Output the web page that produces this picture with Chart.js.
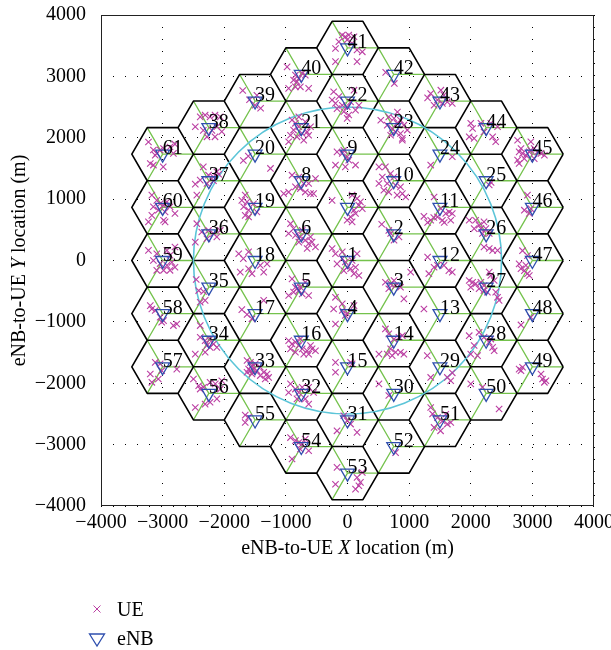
<!DOCTYPE html>
<html>
<head>
<meta charset="utf-8">
<style>
  html, body { margin: 0; padding: 0; background: #fff; }
  #c { display: block; }
</style>
<script src="https://cdn.jsdelivr.net/npm/chart.js@4/dist/chart.umd.min.js"></script>
</head>
<body>
<canvas id="c" width="611" height="650"></canvas>
<script>
// ---------------- data ----------------
const xTickLabels = ['\u22124000', '\u22123000', '\u22122000', '\u22121000', '0', '1000', '2000', '3000', '4000'];
const yTickLabels = ['\u22124000', '\u22123000', '\u22122000', '\u22121000', '0', '1000', '2000', '3000', '4000'];
const xTitleParts = [['eNB-to-UE ', false], ['X', true], [' location (m)', false]];
const yTitleParts = [['eNB-to-UE ', false], ['Y', true], [' location (m)', false]];
const legendLabels = ['UE', 'eNB'];

const cellIds = [];
for (let i = 1; i <= 61; i++) cellIds.push(String(i));

const enbX = [0,750,750,0,-750,-750,0,-750,0,750,
  1500,1500,1500,750,0,-750,-1500,-1500,-1500,-1500,
  -750,0,750,1500,2250,2250,2250,2250,1500,750,
  0,-750,-1500,-2250,-2250,-2250,-2250,-2250,-1500,-750,
  0,750,1500,2250,3000,3000,3000,3000,3000,2250,
  1500,750,0,-750,-1500,-2250,-3000,-3000,-3000,-3000,-3000];
const enbY = [0,433,-433,-866,-433,433,866,1299,1732,1299,
  866,0,-866,-1299,-1732,-1299,-866,0,866,1732,
  2165,2598,2165,1732,1299,433,-433,-1299,-1732,-2165,
  -2598,-2165,-1732,-1299,-433,433,1299,2165,2598,3031,
  3464,3031,2598,2165,1732,866,0,-866,-1732,-2165,
  -2598,-3031,-3464,-3031,-2598,-2165,-1732,-866,0,866,1732];

const cellRadius = 500;     // hexagon circumradius (m)
const circleRadius = 2500;  // cyan reference circle (m)

const ueXY = [
 [-1700,2770],[-1590,2620],[-1470,2690],[-1500,2530],[-1410,2480],
 [-2390,2340],[-2310,2370],[-2230,2340],[-2150,2370],[-2065,2340],[-2470,2180],[-2340,2120],[-2200,2120],[-2120,2180],[-2280,2015],[-2150,2015],[-2040,2100],
 [-3230,1930],[-3150,1800],[-3095,1745],[-3040,1800],[-2985,1825],[-2880,1850],[-2800,1895],[-3200,1580],[-3150,1555],[-2990,1525],[-2825,1745],[-3120,1715],
 [-1690,1630],[-1250,1500],[-1610,1700],
 [-2340,1525],[-2255,1390],[-2175,1360],[-2090,1405],[-2390,1310],[-2470,1245],[-2280,1255],[-2175,1300],[-2445,1065],[-2120,1445],
 [-3175,1065],[-3095,980],[-3040,925],[-2985,900],[-3150,875],[-3070,820],[-3175,735],[-2960,790],[-2880,875],[-2800,765],[-2985,655],[-2960,630],[-3230,630],[-2930,955],
 [-1660,1065],[-1630,955],[-1685,875],[-1605,820],[-1660,735],[-1605,710],[-1525,925],[-1470,790],[-1715,980],
 [-2445,600],[-2365,465],[-2255,490],[-2175,440],[-2120,385],[-2065,490],[-2280,355],[-2470,300],
 [-3230,165],[-3095,110],[-2930,165],[-2880,85],[-2800,220],[-3150,0],[-3040,-50],[-2930,-80],[-2850,-30],[-2985,-160],[-2880,-160],[-3095,-160],[-2800,-110],
 [-1765,110],[-1605,140],[-1690,30],[-1605,-135],[-1550,-215],[-1415,-80],[-1360,-190],[-1305,-55],[-1740,-190],
 [-2455,-310],[-2415,-490],[-2335,-505],[-2390,-680],[-2310,-650],
 [-3200,-735],[-3120,-815],[-3040,-925],[-2985,-980],[-3015,-1005],[-2825,-1060],[-2770,-1035],[-3175,-790],
 [-1715,-800],[-1360,-650],[-1550,-950],[-1630,-880],
 [-2390,-1060],[-2390,-1250],[-2310,-1305],[-2230,-1280],[-2175,-1360],[-2230,-1415],[-2310,-1495],[-2470,-1525],[-2280,-1385],[-2120,-1415],
 [-3120,-1660],[-3040,-1685],[-3200,-1850],[-3070,-1930],[-3175,-1985],[-3015,-1795],[-2770,-1770],
 [-1630,-1630],[-1575,-1660],[-1550,-1715],[-1605,-1770],[-1525,-1770],[-1470,-1795],[-1415,-1740],[-1360,-1820],[-1305,-1850],[-1280,-1905],[-1335,-1930],[-1630,-1820],[-1550,-1850],[-1495,-1685],[-1415,-1875],[-1575,-1795],
 [-2500,-1930],[-2415,-2040],[-2335,-2065],[-2230,-1985],[-2145,-2010],[-2065,-2095],[-2040,-1960],[-2120,-2255],[-2230,-2310],[-2310,-2340],[-2470,-2395],[-2390,-2095],
 [-1660,-2520],[-1660,-2640],[-1605,-2555],
 [-85,3675],[-35,3645],[20,3675],[105,3645],[-140,3565],[-195,3455],[75,3540],[240,3400],[155,3430],[-195,3240],[155,3240],[-5,3595],
 [-980,3155],[-845,3020],[-790,2965],[-735,3050],[-820,2915],[-845,2830],[-765,2830],[-955,2805],[-630,2805],[-685,3020],[-875,2940],
 [620,3065],[760,2885],
 [-225,2750],[-140,2670],[-195,2560],[-85,2530],[-5,2505],[50,2585],[20,2370],[-5,2315],[130,2450],[-170,2475],[-60,2425],[105,2775],[185,2530],[-250,2615],
 [-900,2290],[-845,2235],[-790,2180],[-875,2125],[-735,2070],[-655,2095],[-630,2040],[-820,2015],[-710,1960],[-925,2040],[-955,1935],[-790,2340],[-600,2180],[-685,2260],
 [670,2340],[755,2315],[805,2235],[860,2285],[915,2205],[725,2150],[780,2095],[860,2070],[890,1990],[700,2040],[645,2205],[970,2125],[540,2285],[810,2420],[890,1960],
 [-170,1770],[-60,1795],[-5,1690],[20,1635],[130,1555],[-35,1525],[-195,1555],[-85,1745],
 [-900,1390],[-790,1360],[-710,1255],[-765,1170],[-685,1115],[-600,1090],[-550,1090],[-955,1115],[-1035,1090],[-845,1200],[-520,1335],[-630,1255],
 [510,1525],[615,1525],[700,1415],[755,1360],[565,1360],[645,1255],[780,1225],[860,1200],[890,1090],[805,1065],[945,1035],[670,1115],[510,1255],[590,1145],
 [75,1065],[155,1010],[210,955],[185,900],[240,845],[105,820],[50,710],[-5,655],[75,630],[-250,980],[130,765],
 [-925,600],[-875,520],[-845,410],[-765,385],[-790,300],[-685,330],[-630,275],[-575,300],[-520,220],[-655,195],[-955,440],[-735,490],[-600,385],
 [555,590],[670,490],[835,385],[755,330],[700,440],
 [-250,195],[-195,110],[-85,140],[155,110],[-85,30],[-35,-25],[-5,-110],[50,-135],[130,-110],[105,-215],[-60,-165],[185,-245],[-170,-55],[75,0],
 [-900,-300],[-845,-435],[-820,-460],[-790,-490],[-765,-435],[-875,-515],[-630,-570],[-735,-545],[-955,-570],[-685,-355],
 [615,-355],[700,-380],[755,-325],[780,-410],[860,-435],[915,-625],[670,-460],[1025,-190],
 [-195,-600],[-225,-790],[-85,-815],[-5,-870],[-35,-895],[-195,-1035],[105,-735],[-85,-705],
 [-955,-1305],[-900,-1360],[-845,-1330],[-790,-1385],[-735,-1440],[-655,-1470],[-575,-1440],[-520,-1470],[-630,-1525],[-710,-1525],[-845,-1495],[-925,-1440],[-765,-1280],[-600,-1385],
 [615,-1115],[670,-1195],[755,-1280],[835,-1250],[890,-1225],[700,-1440],[780,-1495],[860,-1495],[915,-1525],[510,-1525],[725,-1550],[645,-1525],
 [-195,-1660],[-195,-1820],[50,-1660],[75,-1685],
 [-925,-2010],[-845,-2095],[-790,-2150],[-735,-2065],[-630,-2065],[-550,-2150],[-820,-2255],[-685,-2255],[-630,-2340],[-955,-2150],
 [510,-2010],[670,-2200],
 [-60,-2530],[-5,-2610],[-170,-2775],[155,-2800],[50,-2665],
 [-845,-2935],[-790,-2965],[-735,-2990],[-685,-2910],[-630,-3100],[-765,-3075],[-900,-3235],[-925,-2885],
 [780,-3130],
 [-170,-3370],[-195,-3645],[155,-3535],[210,-3615],[185,-3670],[130,-3725],[240,-3455],
 [1515,2775],[1565,2695],[1460,2615],[1540,2560],[1620,2585],[1700,2560],[1405,2530],[1350,2720],[1300,2650],
 [2000,2235],[2030,2150],[1975,2015],[2055,1990],[2215,2095],[2325,2235],[2355,2015],[2405,1935],[2165,2235],[2435,2180],
 [1350,1555],[1700,1690],
 [2760,1960],[2815,1825],[2785,1770],[2840,1745],[2895,1715],[2975,1795],[3030,1825],[3085,1770],[3140,1745],[3195,1715],[3030,1660],[2760,1635],[2785,1580],[2975,1935],[2870,1660],[2950,1770],
 [2300,1230],[2330,1270],
 [1405,1035],[1515,845],[1595,765],[1675,655],[1650,790],[1540,655],[1460,710],[1350,655],[1700,765],[1240,720],[1300,620],[1400,700],[1570,620],
 [2920,1065],[2870,820],[2950,765],[2975,845],
 [1975,655],[2080,655],[2135,575],[2165,520],[2215,630],[2245,520],[2300,440],[2215,220],[2300,195],[2355,165],[2435,165],[2055,520],[2190,440],
 [2785,-55],[2815,-135],[2870,-165],[2920,-215],[2950,-245],[2895,-80],[2840,160],[2920,80],
 [1300,55],[1405,-110],[1320,-215],[1565,-80],[1645,-165],[1460,-80],[1700,-190],
 [1975,-325],[2030,-355],[2080,-380],[2165,-355],[2215,-410],[2135,-460],[2215,-490],[2300,-190],[2325,-245],[2405,-515],[2435,-600],[2460,-650],[2380,-325],[2270,-515],[2000,-435],
 [2815,-1050],[2975,-925],
 [1240,-790],
 [1975,-1225],[2055,-1385],[2135,-1170],[2215,-1250],[2300,-1330],[2355,-1415],[2380,-1470],[2325,-1280],[2110,-1550],[2000,-1525],
 [1295,-1550],[1350,-1905],[1620,-1905],[1675,-1960],[1700,-1830],
 [2785,-1770],[2815,-1795],[2840,-1740],[3140,-1850],[3165,-1930],[3195,-1985],[3220,-1960],
 [2000,-2010],[2460,-2420],[2190,-2065],
 [1350,-2395],[1460,-2560],[1540,-2615],[1620,-2665],[1595,-2505],[1675,-2640],[1405,-2720],[1510,-2775],[1380,-2500]
];

// ---------------- styles ----------------
const SERIF = "'Liberation Serif', 'Times New Roman', serif";
const UE_COLOR = '#bb3fa3';
const ENB_COLOR = '#2f4fae';
const HEX_COLOR = '#000000';
const SECTOR_COLOR = '#74c24c';
const CIRCLE_COLOR = '#5cc5d8';

function drawParts(ctx, parts, cx, cy, size) {
  let total = 0;
  const widths = parts.map(([t, it]) => {
    ctx.font = (it ? 'italic ' : '') + size + 'px ' + SERIF;
    const w = ctx.measureText(t).width; total += w; return w;
  });
  let x = cx - total / 2;
  ctx.textAlign = 'left';
  ctx.textBaseline = 'middle';
  parts.forEach(([t, it], i) => {
    ctx.font = (it ? 'italic ' : '') + size + 'px ' + SERIF;
    ctx.fillText(t, x, cy);
    x += widths[i];
  });
}

const hexPlugin = {
  id: 'hexGrid',
  beforeDatasetsDraw(chart) {
    const { ctx, scales: { x, y } } = chart;
    const px = v => x.getPixelForValue(v), py = v => y.getPixelForValue(v);
    ctx.save();
    // sector boundaries
    ctx.strokeStyle = SECTOR_COLOR; ctx.lineWidth = 1.3;
    ctx.beginPath();
    for (let i = 0; i < enbX.length; i++) {
      const cx = enbX[i], cy = enbY[i];
      [0, 120, 240].forEach(a => {
        const r = a * Math.PI / 180;
        ctx.moveTo(px(cx), py(cy));
        ctx.lineTo(px(cx + cellRadius * Math.cos(r)), py(cy + cellRadius * Math.sin(r)));
      });
    }
    ctx.stroke();
    // hexagon outlines
    ctx.strokeStyle = HEX_COLOR; ctx.lineWidth = 1.6;
    ctx.lineJoin = 'round';
    ctx.beginPath();
    for (let i = 0; i < enbX.length; i++) {
      const cx = enbX[i], cy = enbY[i];
      for (let k = 0; k <= 6; k++) {
        const r = k * Math.PI / 3;
        const vx = px(cx + cellRadius * Math.cos(r)), vy = py(cy + cellRadius * Math.sin(r));
        if (k === 0) ctx.moveTo(vx, vy); else ctx.lineTo(vx, vy);
      }
    }
    ctx.stroke();
    // reference circle
    ctx.strokeStyle = CIRCLE_COLOR; ctx.lineWidth = 1.6;
    ctx.beginPath();
    const rx = Math.abs(px(circleRadius) - px(0)), ry = Math.abs(py(circleRadius) - py(0));
    ctx.ellipse(px(0), py(0), rx, ry, 0, 0, Math.PI * 2);
    ctx.stroke();
    ctx.restore();
  },
  afterDatasetsDraw(chart) {
    const { ctx, scales: { x, y } } = chart;
    ctx.save();
    ctx.fillStyle = '#000';
    ctx.font = '20px ' + SERIF;
    ctx.textAlign = 'left';
    ctx.textBaseline = 'alphabetic';
    for (let i = 0; i < cellIds.length; i++) {
      ctx.fillText(cellIds[i], x.getPixelForValue(enbX[i]), y.getPixelForValue(enbY[i]));
    }
    ctx.restore();
  },
  afterDraw(chart) {
    const { ctx, chartArea: a } = chart;
    ctx.save();
    // frame
    ctx.strokeStyle = '#222'; ctx.lineWidth = 1;
    ctx.strokeRect(Math.round(a.left) + 0.5, Math.round(a.top) + 0.5,
                   Math.round(a.right - a.left) - 1, Math.round(a.bottom - a.top) - 1);
    // axis titles
    ctx.fillStyle = '#000';
    drawParts(ctx, xTitleParts, (a.left + a.right) / 2, 549, 20);
    ctx.save();
    ctx.translate(20, (a.top + a.bottom) / 2);
    ctx.rotate(-Math.PI / 2);
    drawParts(ctx, yTitleParts, 0, 0, 20);
    ctx.restore();
    // legend
    const lx = 97;
    ctx.strokeStyle = UE_COLOR; ctx.lineWidth = 1;
    ctx.beginPath();
    ctx.moveTo(lx - 3.5, 605.5); ctx.lineTo(lx + 3.5, 612.5);
    ctx.moveTo(lx - 3.5, 612.5); ctx.lineTo(lx + 3.5, 605.5);
    ctx.stroke();
    ctx.strokeStyle = ENB_COLOR; ctx.lineWidth = 1.3;
    ctx.beginPath();
    ctx.moveTo(lx - 7.5, 634); ctx.lineTo(lx + 7.5, 634); ctx.lineTo(lx, 646); ctx.closePath();
    ctx.stroke();
    ctx.fillStyle = '#000';
    ctx.font = '20px ' + SERIF;
    ctx.textAlign = 'left'; ctx.textBaseline = 'alphabetic';
    ctx.fillText(legendLabels[0], 117, 616);
    ctx.fillText(legendLabels[1], 117, 645);
    ctx.restore();
  }
};

new Chart(document.getElementById('c'), {
  type: 'scatter',
  data: {
    datasets: [
      {
        label: legendLabels[0],
        data: ueXY.map(p => ({ x: p[0], y: p[1] })),
        pointStyle: 'crossRot',
        pointRadius: 4.5,
        borderColor: UE_COLOR,
        borderWidth: 1.1,
        backgroundColor: UE_COLOR,
        order: 2
      },
      {
        label: legendLabels[1],
        data: enbX.map((v, i) => ({ x: v, y: enbY[i] })),
        pointStyle: 'triangle',
        pointRotation: 180,
        pointRadius: 8,
        borderColor: ENB_COLOR,
        borderWidth: 1.3,
        backgroundColor: 'rgba(0,0,0,0)',
        order: 1
      }
    ]
  },
  options: {
    responsive: false,
    animation: false,
    events: [],
    layout: { padding: { left: 0, right: 17, top: 15, bottom: 114 } },
    plugins: { legend: { display: false }, tooltip: { enabled: false } },
    scales: {
      x: {
        type: 'linear', min: -4000, max: 4000,
        ticks: {
          stepSize: 1000, padding: 5, color: '#000',
          font: { family: SERIF, size: 20 },
          callback: (v, i) => xTickLabels[i]
        },
        grid: { color: '#000', lineWidth: 1, drawTicks: false },
        border: { display: false, dash: [1, 11] },
        afterFit: s => { s.height = 30; s.paddingLeft = 0; s.paddingRight = 0; }
      },
      y: {
        type: 'linear', min: -4000, max: 4000,
        ticks: {
          stepSize: 1000, padding: 15, color: '#000',
          font: { family: SERIF, size: 20 },
          callback: (v, i) => yTickLabels[i]
        },
        grid: { color: '#000', lineWidth: 1, drawTicks: false },
        border: { display: false, dash: [1, 11] },
        afterFit: s => { s.width = 101; s.paddingTop = 0; s.paddingBottom = 0; }
      }
    }
  },
  plugins: [hexPlugin]
});
</script>
</body>
</html>
